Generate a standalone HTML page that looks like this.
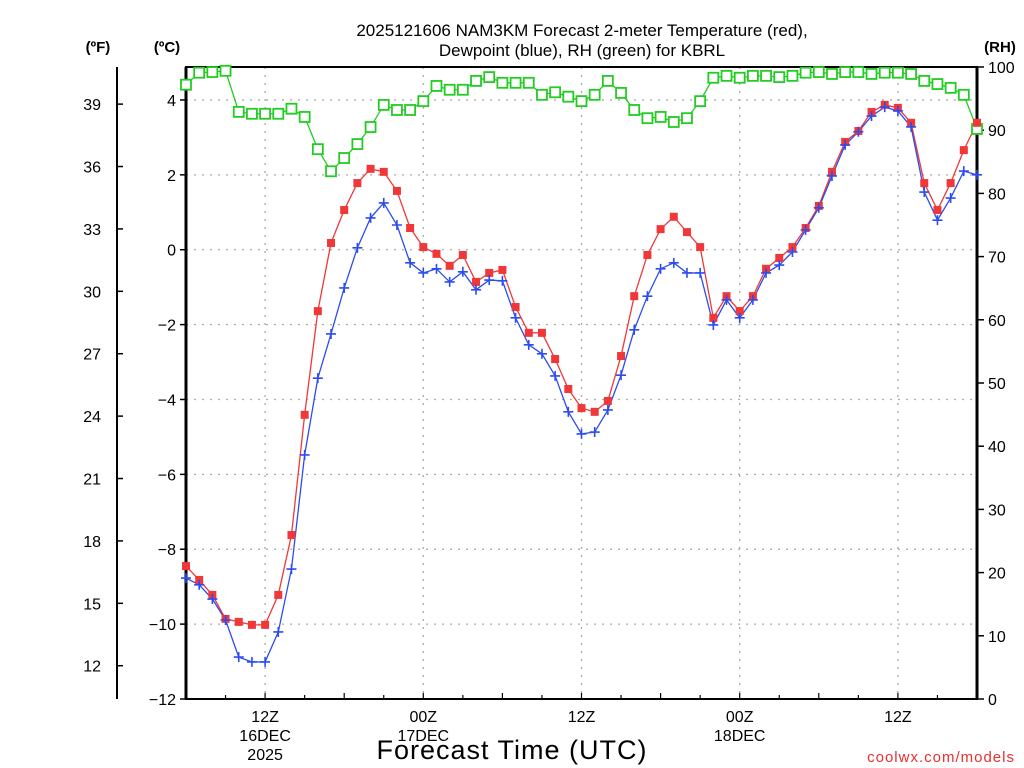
<!DOCTYPE html>
<html><head><meta charset="utf-8"><style>
html,body{margin:0;padding:0;background:#fff;}
svg{display:block;font-family:"Liberation Sans","DejaVu Sans",sans-serif;}
</style></head><body>
<svg id="chart" width="1024" height="768" viewBox="0 0 1024 768" xmlns="http://www.w3.org/2000/svg">
<g id="grid"></g>
<g id="axes"></g>
<g id="series"></g>
<text x="582" y="36" font-size="17" text-anchor="middle">2025121606 NAM3KM Forecast 2-meter Temperature (red),</text>
<text x="582" y="56" font-size="17" text-anchor="middle">Dewpoint (blue), RH (green) for KBRL</text>
<text x="98" y="52" font-size="15" font-weight="bold" text-anchor="middle">(ºF)</text>
<text x="167" y="52" font-size="15" font-weight="bold" text-anchor="middle">(ºC)</text>
<text x="1000" y="52" font-size="15" font-weight="bold" text-anchor="middle">(RH)</text>
<text x="512" y="759" font-size="27" text-anchor="middle" letter-spacing="1">Forecast Time (UTC)</text>
<text x="1015" y="762" font-size="15" fill="#e83030" text-anchor="end" letter-spacing="1">coolwx.com/models</text>
</svg>
<script>
const hours = [];
for (let h = 0; h <= 60; h++) hours.push(h); // forecast hours from 06Z 16DEC
const tempC = [-8.45,-8.82,-9.22,-9.86,-9.94,-10.02,-10.02,-9.22,-7.62,-4.41,-1.64,0.18,1.06,1.78,2.16,2.08,1.57,0.58,0.07,-0.11,-0.43,-0.14,-0.86,-0.62,-0.54,-1.53,-2.22,-2.22,-2.92,-3.72,-4.23,-4.33,-4.04,-2.84,-1.24,-0.14,0.55,0.88,0.47,0.07,-1.82,-1.24,-1.64,-1.24,-0.51,-0.22,0.07,0.58,1.17,2.08,2.88,3.17,3.68,3.87,3.79,3.39,1.78,1.06,1.78,2.66,3.39];
const dewC = [-8.77,-8.95,-9.33,-9.89,-10.88,-11.01,-11.01,-10.21,-8.53,-5.48,-3.43,-2.25,-1.02,0.05,0.85,1.25,0.66,-0.35,-0.62,-0.51,-0.86,-0.59,-1.07,-0.81,-0.83,-1.82,-2.54,-2.78,-3.37,-4.33,-4.92,-4.87,-4.28,-3.35,-2.14,-1.24,-0.51,-0.35,-0.62,-0.62,-2.01,-1.34,-1.82,-1.34,-0.62,-0.41,-0.06,0.53,1.12,1.97,2.80,3.15,3.57,3.81,3.71,3.28,1.54,0.79,1.38,2.10,2.00];
const rhPct = [97.2,99.1,99.2,99.4,92.9,92.6,92.6,92.6,93.4,92.1,87.0,83.5,85.6,87.8,90.5,94.0,93.2,93.2,94.6,97.0,96.4,96.4,97.8,98.4,97.5,97.5,97.5,95.6,96.0,95.3,94.6,95.6,97.8,95.9,93.2,91.9,92.1,91.3,91.9,94.6,98.3,98.6,98.3,98.6,98.6,98.4,98.6,99.1,99.2,98.9,99.2,99.2,98.9,99.1,99.1,98.9,97.8,97.3,96.7,95.6,90.2];
const cTicks = [4,2,0,-2,-4,-6,-8,-10,-12];
const fTicks = [39,36,33,30,27,24,21,18,15,12];
const rhTicks = [0,10,20,30,40,50,60,70,80,90,100];
const xTickHours = [6,18,30,42,54];
const xTickLabels = [["12Z","16DEC","2025"],["00Z","17DEC"],["12Z"],["00Z","18DEC"],["12Z"]];

const L=186,R=977,T=67,B=699;
const xs = h => L + (R-L)*h/60;
const yC = c => 699 - (c+12)*37.44;
const yF = f => yC((f-32)/1.8);
const yRH = r => B - (B-T)*r/100;
const NS="http://www.w3.org/2000/svg";
function mk(tag, attrs, parent){const e=document.createElementNS(NS,tag);for(const k in attrs)e.setAttribute(k,attrs[k]);parent.appendChild(e);return e;}
const grid=document.getElementById('grid'), axes=document.getElementById('axes'), ser=document.getElementById('series');

// grid
cTicks.forEach(c=>{ if(c>-12){
  const g=mk('line',{x1:L,x2:R,y1:yC(c),y2:yC(c),stroke:'#aaa','stroke-width':1.3,'stroke-dasharray':'2,6'},grid);
  
  
}});
xTickHours.forEach(h=>{
  const g=mk('line',{x1:xs(h),x2:xs(h),y1:T,y2:B,stroke:'#aaa','stroke-width':1.3,'stroke-dasharray':'2,6'},grid);
  
  
});

// frame
const fr=mk('rect',{x:L,y:T,width:R-L,height:B-T,fill:'none',stroke:'#000','stroke-width':2},axes);


mk('line',{x1:L,x2:L,y1:T,y2:B,stroke:'#000','stroke-width':3},axes);
mk('line',{x1:R,x2:R,y1:T,y2:B,stroke:'#000','stroke-width':3},axes);
const fa=mk('line',{x1:117,x2:117,y1:T,y2:B,stroke:'#000','stroke-width':2},axes);



cTicks.forEach(c=>{
  mk('line',{x1:L-6,x2:L,y1:yC(c),y2:yC(c),stroke:'#000','stroke-width':1.5},axes);
  const t=mk('text',{x:L-10,y:yC(c)+6,'font-size':16,'text-anchor':'end'},axes);
  t.textContent=(c<0?'\u2212'+(-c):c);
  
  
});
fTicks.forEach(f=>{
  mk('line',{x1:117,x2:123,y1:yF(f),y2:yF(f),stroke:'#000','stroke-width':1.5},axes);
  const t=mk('text',{x:101,y:yF(f)+6,'font-size':16,'text-anchor':'end'},axes);
  t.textContent=f;
  
  
});
rhTicks.forEach(r=>{
  mk('line',{x1:R,x2:R+7,y1:yRH(r),y2:yRH(r),stroke:'#000','stroke-width':1.5},axes);
  const t=mk('text',{x:988,y:yRH(r)+6,'font-size':16,'text-anchor':'start'},axes);
  t.textContent=r;
  
  
});
for(let h=0;h<=60;h+=3){ mk('line',{x1:xs(h),x2:xs(h),y1:B,y2:B-(h%6===0?6:4),stroke:'#000','stroke-width':1.2},axes); }
xTickHours.forEach((h,i)=>{
  xTickLabels[i].forEach((s,j)=>{
    const t=mk('text',{x:xs(h),y:722+j*19,'font-size':16,'text-anchor':'middle'},axes);
    t.textContent=s;
    
    
  });
});

// series
function line(vals, yf, color, name){
  const p=mk('polyline',{points:vals.map((v,i)=>xs(hours[i])+','+yf(v)).join(' '),fill:'none',stroke:color,'stroke-width':1.3},ser);
  
  
}
line(rhPct,yRH,'#22cc22','rh-line');
line(tempC,yC,'#f03838','temperature-line');
line(dewC,yC,'#2c4cf0','dewpoint-line');
rhPct.forEach((v,i)=>{
  const m=mk('rect',{x:xs(hours[i])-5,y:yRH(v)-5,width:10,height:10,fill:'#fff',stroke:'#22cc22','stroke-width':1.8},ser);
  
  
});
tempC.forEach((v,i)=>{
  const m=mk('rect',{x:xs(hours[i])-4,y:yC(v)-4,width:8,height:8,fill:'#f03838'},ser);
  
  
});
dewC.forEach((v,i)=>{
  const x=xs(hours[i]),y=yC(v);
  const m=mk('path',{d:`M${x-5},${y}H${x+5}M${x},${y-5}V${y+5}`,stroke:'#2c4cf0','stroke-width':1.6,fill:'none'},ser);
  
  
});
</script>
</body></html>
